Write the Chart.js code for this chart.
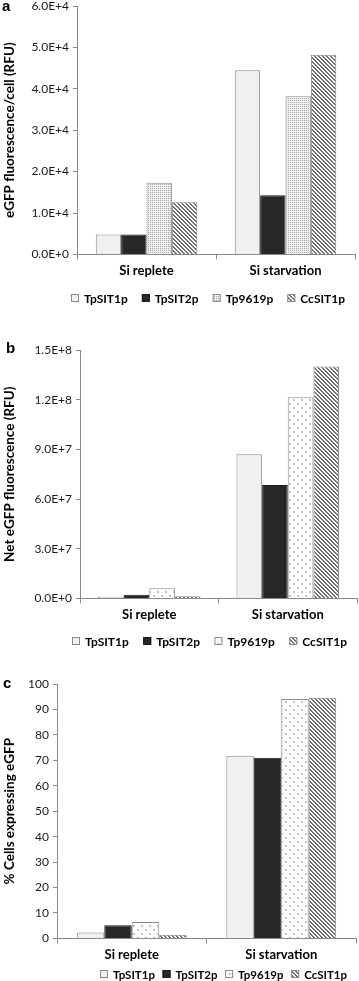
<!DOCTYPE html>
<html>
<head>
<meta charset="utf-8">
<script src="https://cdn.jsdelivr.net/npm/chart.js@4"></script>
<style>
  body { margin: 0; background: #fff; }
  #wrap { position: relative; width: 359px; height: 981px; overflow: hidden; }
  canvas { position: absolute; left: 0; }
</style>
</head>
<body>
<div id="wrap">
  <canvas id="chartA" width="359" height="315" style="top:-6px"></canvas>
  <canvas id="chartB" width="359" height="313" style="top:338px"></canvas>
  <canvas id="chartC" width="359" height="309" style="top:672px"></canvas>
</div>
<script>
const categories = ['Si replete', 'Si starvation'];
const seriesNames = ['TpSIT1p', 'TpSIT2p', 'Tp9619p', 'CcSIT1p'];

// panel a: eGFP fluorescence per cell (RFU)
const perCellTpSIT1p = [4800, 44500];
const perCellTpSIT2p = [4800, 14300];
const perCellTp9619p = [17300, 38200];
const perCellCcSIT1p = [12600, 48200];

// panel b: net eGFP fluorescence (RFU)
const netTpSIT1p = [8e5, 8.7e7];
const netTpSIT2p = [2.2e6, 6.85e7];
const netTp9619p = [6.2e6, 1.215e8];
const netCcSIT1p = [1.3e6, 1.4e8];

// panel c: % cells expressing eGFP
const pctTpSIT1p = [2.3, 71.8];
const pctTpSIT2p = [5.2, 71.0];
const pctTp9619p = [6.4, 94.1];
const pctCcSIT1p = [1.4, 94.6];

const FONT = 'Lato';

function tile(size, draw) {
    const c = document.createElement('canvas');
    c.width = size; c.height = size;
    const g = c.getContext('2d');
    draw(g);
    return document.createElement('canvas').getContext('2d').createPattern(c, 'repeat');
}

const lightFill = '#f0f0f0';
const darkFill = '#282828';
const denseDots = tile(2, g => {
    g.fillStyle = '#f0f0f0'; g.fillRect(0, 0, 2, 2);
    g.fillStyle = '#a8a8a8'; g.fillRect(0, 0, 1, 1);
});
const sparseDots = tile(8, g => {
    g.fillStyle = '#ffffff'; g.fillRect(0, 0, 8, 8);
    g.fillStyle = '#c0c0c0'; g.fillRect(1, 1, 2, 2); g.fillRect(5, 5, 2, 2);
});
const hatch = tile(4, g => {
    g.fillStyle = '#ffffff'; g.fillRect(0, 0, 4, 4);
    g.fillStyle = '#707070';
    for (let i = 0; i < 4; i++) { g.fillRect(i, i, 1, 1); g.fillRect((i + 1) % 4, i, 1, 1); }
});

function fmtExp(v) {
    return Number(v).toExponential(1).toUpperCase();
}

// panel letter + legend row drawn by hand so they sit where the figure has them
const panelDecor = {
    id: 'panelDecor',
    afterDraw(chart, args, opts) {
        const ctx = chart.ctx;
        ctx.save();
        ctx.fillStyle = '#000';
        ctx.font = 'bold 15px "Liberation Sans"';
        ctx.textBaseline = 'middle';
        ctx.fillText(opts.letter, opts.letterX, opts.letterY);

        ctx.font = `bold ${opts.legendSize}px ${FONT}`;
        const sets = chart.data.datasets;
        const box = 8, gap = 5;
        const widths = sets.map(d => box + gap + ctx.measureText(d.label).width);
        const total = widths.reduce((a, b) => a + b, 0);
        const space = (opts.legendEnd - opts.legendStart - total) / (sets.length - 1);
        let x = opts.legendStart;
        const y = opts.legendY;
        sets.forEach((d, i) => {
            ctx.fillStyle = d.backgroundColor;
            ctx.fillRect(x, y - box / 2, box, box);
            ctx.strokeStyle = d.borderColor;
            ctx.lineWidth = 1;
            ctx.strokeRect(x + 0.5, y - box / 2 + 0.5, box - 1, box - 1);
            ctx.fillStyle = '#000';
            ctx.fillText(d.label, x + box + gap, y + 1);
            x += widths[i] + space;
        });
        ctx.restore();
    }
};

function makeChart(id, cfg) {
    const fills = [lightFill, darkFill, cfg.dotFill, hatch];
    const datasets = seriesNames.map((name, i) => ({
        label: name,
        data: cfg.values[i],
        backgroundColor: fills[i],
        borderColor: i === 1 ? '#1a1a1a' : '#8a8a8a',
        borderWidth: 1,
        categoryPercentage: cfg.catPct,
        barPercentage: 1
    }));
    return new Chart(document.getElementById(id), {
        type: 'bar',
        data: { labels: categories, datasets },
        plugins: [panelDecor],
        options: {
            responsive: false,
            devicePixelRatio: 1,
            animation: false,
            layout: { padding: { top: 12, right: cfg.padRight, bottom: cfg.padBottom, left: 0 } },
            plugins: {
                panelDecor: cfg.decor,
                tooltip: { enabled: false },
                legend: { display: false }
            },
            scales: {
                x: {
                    offset: true,
                    grid: { offset: true, drawOnChartArea: false, drawTicks: true, tickLength: 5, color: '#8a8a8a' },
                    border: { color: '#8a8a8a', width: 1 },
                    ticks: { padding: 4, color: '#000', font: { family: FONT, size: 13, weight: 'bold' } }
                },
                y: {
                    min: 0,
                    max: cfg.max,
                    grid: { drawOnChartArea: false, drawTicks: true, tickLength: 4, color: '#8a8a8a' },
                    border: { color: '#8a8a8a', width: 1 },
                    ticks: {
                        stepSize: cfg.step,
                        padding: 4,
                        color: '#1a1a1a',
                        font: { family: FONT, size: 12 },
                        callback: cfg.fmt
                    },
                    title: {
                        display: true,
                        text: cfg.title,
                        color: '#000',
                        padding: { top: 2, bottom: 0 },
                        font: { family: FONT, size: 13.5, weight: 'bold' }
                    },
                    afterFit(scale) { scale.width = cfg.left; }
                }
            }
        }
    });
}

makeChart('chartA', {
    values: [perCellTpSIT1p, perCellTpSIT2p, perCellTp9619p, perCellCcSIT1p],
    dotFill: denseDots,
    max: 60000, step: 10000, fmt: v => fmtExp(v),
    title: 'eGFP fluorescence/cell (RFU)',
    left: 77, padRight: 4, padBottom: 26, catPct: 0.73,
    decor: { letter: 'a', letterX: 2, letterY: 13, legendSize: 12, legendStart: 71, legendEnd: 345, legendY: 304 }
});

makeChart('chartB', {
    values: [netTpSIT1p, netTpSIT2p, netTp9619p, netCcSIT1p],
    dotFill: sparseDots,
    max: 1.5e8, step: 3e7, fmt: v => fmtExp(v),
    title: 'Net eGFP fluorescence (RFU)',
    left: 80, padRight: 2, padBottom: 24, catPct: 0.74,
    decor: { letter: 'b', letterX: 6, letterY: 11, legendSize: 12, legendStart: 72, legendEnd: 347, legendY: 303 }
});

makeChart('chartC', {
    values: [pctTpSIT1p, pctTpSIT2p, pctTp9619p, pctCcSIT1p],
    dotFill: sparseDots,
    max: 100, step: 10, fmt: v => v,
    title: '% Cells expressing eGFP',
    left: 57, padRight: 3, padBottom: 14, catPct: 0.735,
    decor: { letter: 'c', letterX: 3, letterY: 12, legendSize: 11.5, legendStart: 100, legendEnd: 347, legendY: 302 }
});
</script>
</body>
</html>
